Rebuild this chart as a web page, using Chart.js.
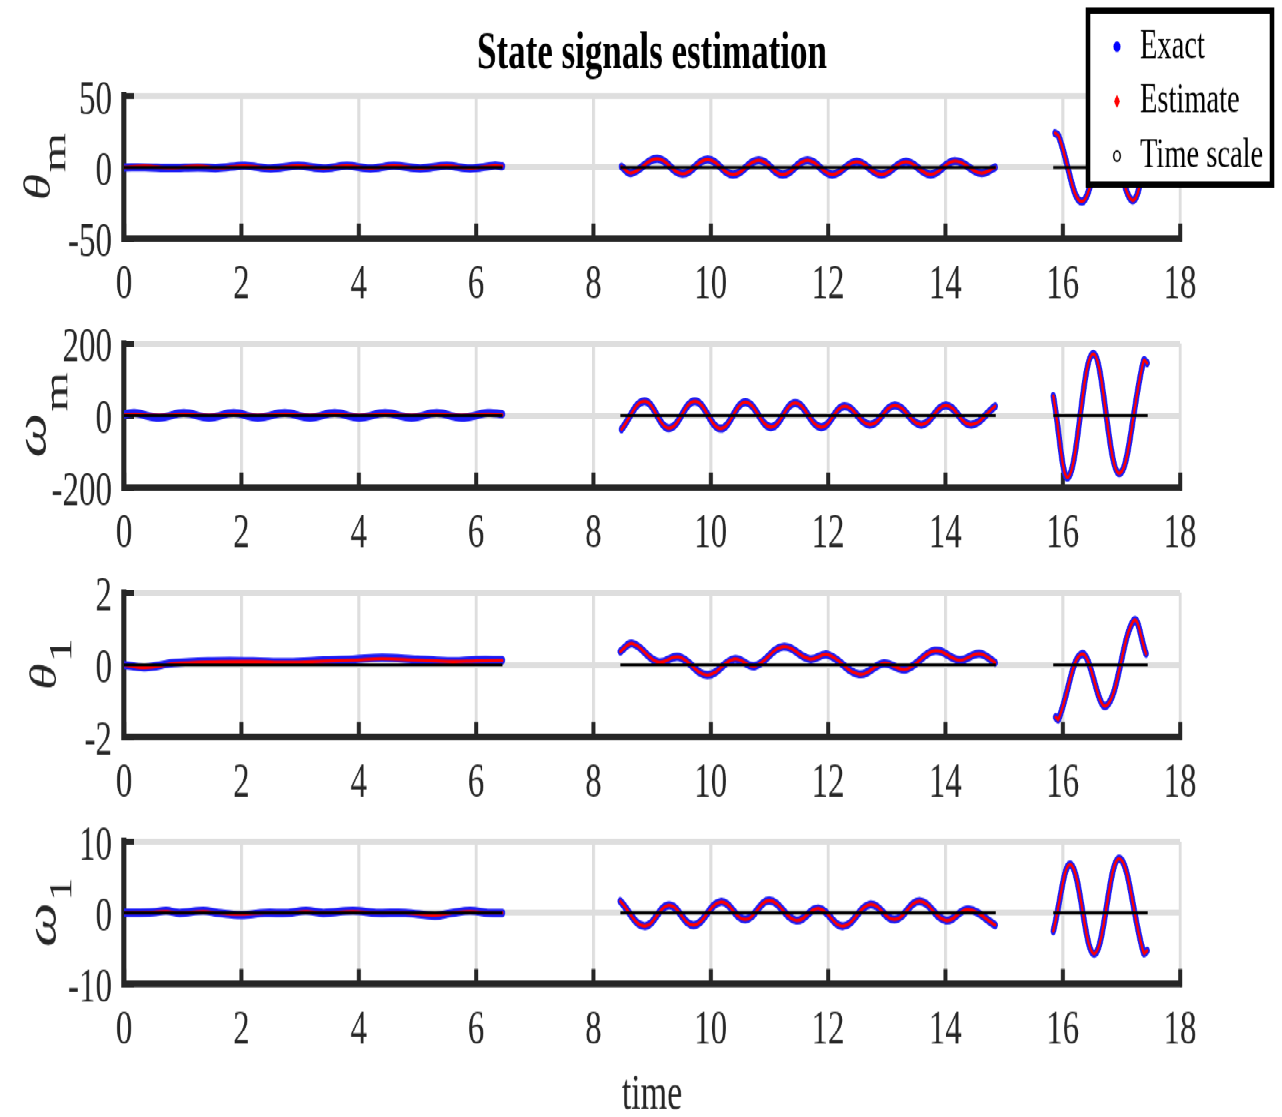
<!DOCTYPE html>
<html>
<head>
<meta charset="utf-8">
<script src="https://cdn.jsdelivr.net/npm/chart.js@4.4.1/dist/chart.umd.min.js"></script>
<style>
  html, body { margin: 0; padding: 0; background: #fff; overflow: hidden; }
  /* the source figure is stretched vertically, so draw compressed and stretch back */
  #figure { position: absolute; left: 0; top: 0; width: 1282px; height: 745px;
            transform: scaleY(1.5); transform-origin: 0 0; }
  #figure canvas { display: block; }
</style>
</head>
<body>
<div id="figure">
  <canvas id="plotThetaM" width="1282" height="210"></canvas>
  <canvas id="plotOmegaM" width="1282" height="166"></canvas>
  <canvas id="plotTheta1" width="1282" height="165"></canvas>
  <canvas id="plotOmega1" width="1282" height="204"></canvas>
</div>
<script>
// ---------------- data ----------------
const xTicks = [0, 2, 4, 6, 8, 10, 12, 14, 16, 18];
const seriesLabels = ['Exact', 'Estimate', 'Time scale'];

// time scale (three sampled intervals, drawn as a zero line)
const timeScaleT = [0, 6.45, 7.5, 8.46, 14.86, 15.4, 15.84, 17.45];
const timeScaleY = [0, 0, null, 0, 0, null, 0, 0];

// theta_m
const thetaMTime = [0, 0.36, 0.8, 1.26, 1.6, 2.06, 2.5, 2.97, 3.4, 3.8, 4.2, 4.6, 5.05, 5.5, 5.9, 6.3, 6.45, 7.5,
  8.48, 8.65, 9.09, 9.52, 9.95, 10.38, 10.82, 11.23, 11.65, 12.07, 12.49, 12.91, 13.33, 13.75, 14.16, 14.6, 14.85, 15.4,
  15.87, 15.93, 16.33, 16.76, 17.18, 17.45];
const thetaMExact = [0, 0, -0.5, 0, -0.5, 1.2, -0.8, 1.2, -0.8, 1.2, -0.8, 1.2, -0.8, 1.2, -0.8, 1.2, 0.8, null,
  0.5, -4, 6, -4.5, 5.5, -5, 5, -5, 5, -5, 4, -5, 4, -5, 4.5, -4, 0, null,
  24, 22, -24, 24, -23, 10];
const thetaMEstimate = [0, 1, -0.5, 1, -0.5, 1.2, -0.8, 1.2, -0.8, 1.2, -0.8, 1.2, -0.8, 1.2, -0.8, 1.2, 0.8, null,
  0.5, -4, 6, -4.5, 5.5, -5, 5, -5, 5, -5, 4, -5, 4, -5, 4.5, -4, 0, null,
  24, 22, -24, 24, -23, 10];

// omega_m
const omegaMTime = [0, 0.18, 0.6, 1.02, 1.45, 1.87, 2.28, 2.74, 3.17, 3.59, 4.01, 4.45, 4.9, 5.33, 5.75, 6.2, 6.45, 7.5,
  8.48, 8.87, 9.29, 9.73, 10.17, 10.59, 11.03, 11.44, 11.88, 12.28, 12.72, 13.14, 13.59, 14.01, 14.43, 14.85, 15.4,
  15.84, 16.1, 16.52, 16.96, 17.38, 17.44];
const omegaMExact = [3, 7, -6, 7, -6, 7, -6, 7, -6, 7, -6, 7, -6, 7, -6, 7, 4, null,
  -38, 40, -35, 40, -36, 37, -32, 35, -32, 26, -25, 28, -25, 28, -25, 26, null,
  54, -170, 171, -160, 152, 146];
const omegaMEstimate = [2, 3, 1, 3, 1, 3, 1, 3, 1, 3, 1, 3, 1, 3, 1, 3, 2, null,
  -38, 40, -35, 40, -36, 37, -32, 35, -32, 26, -25, 28, -25, 28, -25, 26, null,
  54, -170, 171, -160, 152, 146];

// theta_1
const theta1Time = [0, 0.36, 0.85, 1.5, 2.2, 2.8, 3.4, 3.9, 4.4, 5.0, 5.6, 6.0, 6.45, 7.5,
  8.46, 8.67, 9.1, 9.46, 9.94, 10.4, 10.76, 11.23, 11.69, 12.0, 12.53, 12.95, 13.33, 13.82, 14.24, 14.58, 14.85, 15.4,
  15.88, 15.93, 16.33, 16.74, 17.21, 17.42];
const theta1Exact = [0, -0.07, 0.05, 0.1, 0.1, 0.08, 0.12, 0.15, 0.2, 0.15, 0.1, 0.13, 0.13, null,
  0.37, 0.59, 0.08, 0.22, -0.28, 0.16, -0.03, 0.5, 0.16, 0.28, -0.26, 0.04, -0.12, 0.39, 0.13, 0.31, 0.06, null,
  -1.45, -1.5, 0.3, -1.14, 1.22, 0.31];
const theta1Estimate = [0, -0.08, 0.03, 0.08, 0.09, 0.07, 0.1, 0.13, 0.17, 0.13, 0.09, 0.11, 0.12, null,
  0.37, 0.59, 0.08, 0.22, -0.28, 0.16, -0.03, 0.5, 0.16, 0.28, -0.26, 0.04, -0.12, 0.39, 0.13, 0.31, 0.06, null,
  -1.45, -1.5, 0.3, -1.14, 1.22, 0.31];

// omega_1
const omega1Time = [0, 0.5, 0.72, 0.95, 1.35, 1.6, 2.0, 2.4, 2.8, 3.1, 3.4, 3.9, 4.3, 4.8, 5.3, 5.6, 5.9, 6.2, 6.45, 7.5,
  8.46, 8.87, 9.29, 9.71, 10.17, 10.59, 11.0, 11.46, 11.84, 12.26, 12.72, 13.14, 13.56, 14.01, 14.39, 14.85, 15.4,
  15.84, 16.14, 16.54, 16.96, 17.38, 17.44];
const omega1Exact = [0, 0.1, 0.3, 0, 0.3, 0, -0.3, 0, 0, 0.3, 0, 0.3, 0, 0, -0.4, 0, 0.3, 0, 0, null,
  1.63, -1.86, 1.07, -1.72, 1.54, -0.93, 1.72, -1.07, 0.6, -1.86, 1.17, -0.93, 1.63, -1.07, 0.47, -1.72, null,
  -2.56, 6.76, -5.73, 7.6, -5.6, -5.3];
const omega1Estimate = [0, 0.1, 0.2, 0, 0.2, 0, -0.2, 0, 0, 0.2, 0, 0.2, 0, 0, -0.3, 0, 0.2, 0, 0, null,
  1.63, -1.86, 1.07, -1.72, 1.54, -0.93, 1.72, -1.07, 0.6, -1.86, 1.17, -0.93, 1.63, -1.07, 0.47, -1.72, null,
  -2.56, 6.76, -5.73, 7.6, -5.6, -5.3];

// ---------------- drawing ----------------
const SERIF = '"Liberation Serif", "Times New Roman", serif';
const AXIS_COLOR = '#262626';
const GRID_COLOR = '#dedede';

function toPoints(times, values) {
  return times.map((t, i) => ({ x: t, y: values[i] }));
}

// legend box in the top right corner, like matlab's
const boxLegend = {
  id: 'boxLegend',
  afterDraw(chart, args, opts) {
    if (!opts.show) return;
    const ctx = chart.ctx;
    ctx.save();
    ctx.fillStyle = '#fff';
    ctx.fillRect(1088, 7, 184, 116);
    ctx.lineWidth = 4.5;
    ctx.strokeStyle = '#000';
    ctx.strokeRect(1088, 7, 184, 116);

    ctx.font = '28.5px ' + SERIF;
    ctx.textBaseline = 'middle';
    ctx.textAlign = 'left';
    chart.data.datasets.forEach((ds, i) => {
      const y = 31 + i * 36.5;
      const x = 1117;
      ctx.beginPath();
      if (i === 0) {
        ctx.fillStyle = '#0000ff';
        ctx.arc(x, y, 3.5, 0, Math.PI * 2);
        ctx.fill();
      } else if (i === 1) {
        ctx.fillStyle = '#ff0000';
        ctx.moveTo(x, y - 4.5);
        ctx.lineTo(x + 3, y);
        ctx.lineTo(x, y + 4.5);
        ctx.lineTo(x - 3, y);
        ctx.closePath();
        ctx.fill();
      } else {
        ctx.strokeStyle = '#000';
        ctx.lineWidth = 1.3;
        ctx.arc(x, y, 3.3, 0, Math.PI * 2);
        ctx.stroke();
      }
      ctx.fillStyle = '#000';
      ctx.fillText(ds.label, 1140, y);
    });
    ctx.restore();
  }
};

// rotated y label: greek symbol + subscript
const axisSymbol = {
  id: 'axisSymbol',
  afterDraw(chart, args, opts) {
    if (!opts.main) return;
    const ctx = chart.ctx;
    const area = chart.chartArea;
    const cy = (area.top + area.bottom) / 2;
    const mainFont = 'italic ' + opts.mainSize + 'px ' + SERIF;
    const subFont = opts.subSize + 'px ' + SERIF;
    ctx.save();
    ctx.font = mainFont;
    const wMain = ctx.measureText(opts.main).width;
    ctx.font = subFont;
    const wSub = ctx.measureText(opts.sub).width;
    const start = -(wMain + wSub) / 2;
    ctx.translate(opts.x, cy);
    ctx.rotate(-Math.PI / 2);
    ctx.fillStyle = AXIS_COLOR;
    ctx.textAlign = 'left';
    ctx.textBaseline = 'alphabetic';
    ctx.font = mainFont;
    ctx.fillText(opts.main, start, 0);
    ctx.font = subFont;
    ctx.fillText(opts.sub, start + wMain + 1, opts.drop);
    ctx.restore();
  }
};

function createSubplot(canvasId, times, exact, estimate, yMax, label, layoutCfg) {
  const ctx = document.getElementById(canvasId).getContext('2d');
  return new Chart(ctx, {
    type: 'line',
    data: {
      datasets: [
        {
          label: seriesLabels[0],
          data: toPoints(times, exact),
          borderColor: '#1c1cf5',
          borderWidth: 5.5,
          pointRadius: 0,
          tension: 0.4,
          borderCapStyle: 'round',
          borderJoinStyle: 'round',
          order: 3,
        },
        {
          label: seriesLabels[1],
          data: toPoints(times, estimate),
          borderColor: '#ff0000',
          borderWidth: 2.2,
          pointRadius: 0,
          tension: 0.4,
          borderCapStyle: 'round',
          order: 2,
        },
        {
          label: seriesLabels[2],
          data: toPoints(timeScaleT, timeScaleY),
          borderColor: '#000',
          borderWidth: 2,
          pointRadius: 0,
          tension: 0,
          order: 1,
        },
      ],
    },
    options: {
      responsive: false,
      animation: false,
      devicePixelRatio: 1.5,
      layout: { padding: { top: layoutCfg.padTop, right: 102, bottom: 0, left: 0 } },
      scales: {
        x: {
          type: 'linear',
          min: 0,
          max: 18,
          afterBuildTicks: scale => { scale.ticks = xTicks.map(v => ({ value: v })); },
          afterFit: scale => {
            scale.height = layoutCfg.axisHeight;
            scale.paddingLeft = 0;
            scale.paddingRight = 0;
          },
          ticks: {
            color: AXIS_COLOR,
            font: { family: SERIF, size: 33, lineHeight: 1 },
            padding: 24.5,
            maxRotation: 0,
          },
          grid: {
            color: GRID_COLOR,
            lineWidth: 3,
            drawTicks: true,
            tickLength: -10,
            tickColor: AXIS_COLOR,
            tickWidth: 4,
          },
          border: { color: AXIS_COLOR, width: 4.5 },
          title: {
            display: !!layoutCfg.xTitle,
            text: layoutCfg.xTitle || '',
            color: AXIS_COLOR,
            font: { family: SERIF, size: 34, lineHeight: 0.88 },
            padding: 0,
          },
        },
        y: {
          min: -yMax,
          max: yMax,
          afterBuildTicks: scale => { scale.ticks = [-yMax, 0, yMax].map(v => ({ value: v })); },
          afterFit: scale => {
            scale.width = 124;
            scale.paddingTop = 0;
            scale.paddingBottom = 0;
          },
          ticks: {
            color: AXIS_COLOR,
            font: { family: SERIF, size: 33, lineHeight: 1 },
            padding: 22,
            labelOffset: 3,
          },
          grid: {
            color: GRID_COLOR,
            lineWidth: 4,
            drawTicks: true,
            tickLength: -10,
            tickColor: AXIS_COLOR,
            tickWidth: 4,
          },
          border: { color: AXIS_COLOR, width: 5 },
        },
      },
      plugins: {
        legend: { display: false },
        tooltip: { enabled: false },
        title: {
          display: !!layoutCfg.title,
          text: layoutCfg.title || '',
          fullSize: false,
          color: '#000',
          font: { family: SERIF, size: 35, weight: 'bold', lineHeight: 1 },
          padding: { top: 19, bottom: 10 },
        },
        boxLegend: { show: !!layoutCfg.legend },
        axisSymbol: label,
      },
    },
    plugins: [boxLegend, axisSymbol],
  });
}

createSubplot('plotThetaM', thetaMTime, thetaMExact, thetaMEstimate, 50,
  { main: 'θ', sub: 'm', x: 49, drop: 16, mainSize: 36, subSize: 34 },
  { padTop: 0, axisHeight: 51, title: 'State signals estimation', legend: true });

createSubplot('plotOmegaM', omegaMTime, omegaMExact, omegaMEstimate, 200,
  { main: 'ω', sub: 'm', x: 45, drop: 22, mainSize: 42, subSize: 34 },
  { padTop: 19, axisHeight: 51 });

createSubplot('plotTheta1', theta1Time, theta1Exact, theta1Estimate, 2,
  { main: 'θ', sub: '1', x: 55, drop: 16, mainSize: 36, subSize: 32 },
  { padTop: 19, axisHeight: 50 });

createSubplot('plotOmega1', omega1Time, omega1Exact, omega1Estimate, 10,
  { main: 'ω', sub: '1', x: 55, drop: 16, mainSize: 42, subSize: 32 },
  { padTop: 20, axisHeight: 89, xTitle: 'time' });
</script>
</body>
</html>
